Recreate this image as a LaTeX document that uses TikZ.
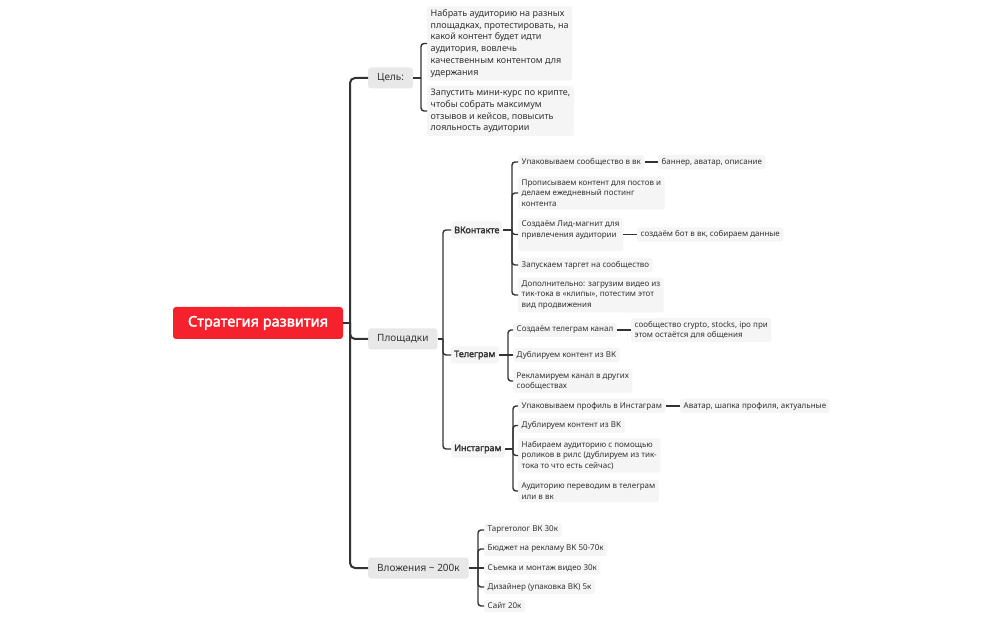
\documentclass[tikz,border=0pt]{standalone}
\usepackage{fontspec}
\setmainfont{Noto Sans}[AutoFakeBold=2.4]
\definecolor{linec}{HTML}{333333}
\definecolor{leafc}{HTML}{F5F5F5}
\definecolor{topc}{HTML}{E8E8E8}
\definecolor{textc}{HTML}{333333}
\definecolor{rootred}{HTML}{F5222D}
\tikzset{
 conn/.style={draw=linec, line width=1.4pt, rounded corners=3pt},
 spine/.style={draw=linec, line width=2pt, rounded corners=5pt},
 leaf/.style={fill=leafc, rounded corners=2.5pt, anchor=west, align=left, text=textc, font=\fontsize{8}{10.5}\selectfont, inner xsep=3.5pt, inner ysep=3pt},
 bigleaf/.style={leaf, font=\fontsize{9}{11.8}\selectfont},
 topnode/.style={fill=topc, rounded corners=3pt, anchor=west, text=textc, font=\fontsize{10}{12}\selectfont, inner xsep=9pt, minimum height=21pt},
 midnode/.style={fill=leafc, rounded corners=2.5pt, anchor=west, text=textc, font=\fontsize{9}{11}\selectfont\bfseries, inner xsep=3pt, minimum height=17pt},
 rootnode/.style={fill=rootred, text=white, rounded corners=3pt, font=\fontsize{14.5}{17}\selectfont\bfseries, minimum width=170pt, minimum height=32pt},
}
\begin{document}
\begin{tikzpicture}[x=1pt,y=-1pt]
\useasboundingbox[fill=white] (0,0) rectangle (1002,620);
% root and top level
\node[rootnode] (root) at (258,323) {Стратегия развития};
\node[topnode] (goal) at (368,78) {Цель:};
\node[topnode] (plat) at (368,339) {Площадки};
\node[topnode] (inv) at (368,568) {Вложения \textasciitilde{} 200к};
% goal leaves
\node[bigleaf] (g1) at (427,43.5) {Набрать аудиторию на разных\\площадках, протестировать, на\\какой контент будет идти\\аудитория, вовлечь\\качественным контентом для\\удержания};
\node[bigleaf] (g2) at (427,111) {Запустить мини-курс по крипте,\\чтобы собрать максимум\\отзывов и кейсов, повысить\\лояльность аудитории};
% platforms
\node[midnode] (vk) at (451,230) {ВКонтакте};
\node[midnode] (tg) at (451,355) {Телеграм};
\node[midnode] (ig) at (451,449) {Инстаграм};
% VK
\node[leaf] (v1) at (518,162) {Упаковываем сообщество в вк};
\node[leaf] (v1b) at (658,162) {баннер, аватар, описание};
\node[leaf] (v2) at (518,193) {Прописываем контент для постов и\\делаем ежедневный постинг\\контента};
\node[leaf] (v3) at (518,234.5) {Создаём Лид-магнит для\\привлечения аудитории\\\mbox{}};
\node[leaf] (v3b) at (637,234.5) {создаём бот в вк, собираем данные};
\node[leaf] (v4) at (518,265) {Запускаем таргет на сообщество};
\node[leaf] (v5) at (518,295) {Дополнительно: загрузим видео из\\тик-тока в «клипы», потестим этот\\вид продвижения};
% Telegram
\node[leaf] (t1) at (513,330) {Создаём телеграм канал};
\node[leaf] (t1b) at (631,330) {сообщество crypto, stocks, ipo при\\этом остаётся для общения};
\node[leaf] (t2) at (513,355) {Дублируем контент из ВК};
\node[leaf] (t3) at (513,381) {Рекламируем канал в других\\сообществах};
% Instagram
\node[leaf] (i1) at (518,406) {Упаковываем профиль в Инстаграм};
\node[leaf] (i1b) at (680,406) {Аватар, шапка профиля, актуальные};
\node[leaf] (i2) at (518,425.5) {Дублируем контент из ВК};
\node[leaf] (i3) at (518,455.5) {Набираем аудиторию с помощью\\роликов в рилс (дублируем из тик-\\тока то что есть сейчас)};
\node[leaf] (i4) at (518,491) {Аудиторию переводим в телеграм\\или в вк};
% investments
\node[leaf] (m1) at (484,530) {Таргетолог ВК 30к};
\node[leaf] (m2) at (484,549) {Бюджет на рекламу ВК 50-70к};
\node[leaf] (m3) at (484,568) {Съемка и монтаж видео 30к};
\node[leaf] (m4) at (484,587) {Дизайнер (упаковка ВК) 5к};
\node[leaf] (m5) at (484,606) {Сайт 20к};
% spine
\coordinate (sp) at (350,323);
\draw[spine] (root.east) -- (sp);
\draw[spine] (sp) |- (goal.west);
\draw[spine] (sp) |- (plat.west);
\draw[spine] (sp) |- (inv.west);
% brackets x
\coordinate (xg) at (421,0);
\coordinate (xp) at (443,0);
\coordinate (xv) at (512,0);
\coordinate (xt) at (508,0);
\coordinate (xi) at (513,0);
\coordinate (xm) at (478,0);
% goal
\draw[conn] (goal.east) -- (goal.east -| xg);
\draw[conn] (goal.east -| xg) |- (g1.west);
\draw[conn] (goal.east -| xg) |- (g2.west);
% platforms
\draw[conn] (plat.east) -- (plat.east -| xp);
\draw[conn] (plat.east -| xp) |- (vk.west);
\draw[conn] (plat.east -| xp) |- (tg.west);
\draw[conn] (plat.east -| xp) |- (ig.west);
% VK
\draw[conn] (vk.east) -- (vk.east -| xv);
\draw[conn] (vk.east -| xv) |- (v1.west);
\draw[conn] (vk.east -| xv) |- (v2.west);
\draw[conn] (vk.east -| xv) |- (v3.west);
\draw[conn] (vk.east -| xv) |- (v4.west);
\draw[conn] (vk.east -| xv) |- (v5.west);
\draw[conn] (v1.east) -- (v1b.west);
\draw[conn] (v3.east) -- (v3b.west);
% Telegram
\draw[conn] (tg.east) -- (t2.west);
\draw[conn] (tg.east -| xt) |- (t1.west);
\draw[conn] (tg.east -| xt) |- (t3.west);
\draw[conn] (t1.east) -- (t1b.west);
% Instagram
\draw[conn] (ig.east) -- (ig.east -| xi);
\draw[conn] (ig.east -| xi) |- (i1.west);
\draw[conn] (ig.east -| xi) |- (i2.west);
\draw[conn] (ig.east -| xi) |- (i3.west);
\draw[conn] (ig.east -| xi) |- (i4.west);
\draw[conn] (i1.east) -- (i1b.west);
% investments
\draw[conn] (inv.east) -- (m3.west);
\draw[conn] (inv.east -| xm) |- (m1.west);
\draw[conn] (inv.east -| xm) |- (m2.west);
\draw[conn] (inv.east -| xm) |- (m4.west);
\draw[conn] (inv.east -| xm) |- (m5.west);
\end{tikzpicture}
\end{document}
